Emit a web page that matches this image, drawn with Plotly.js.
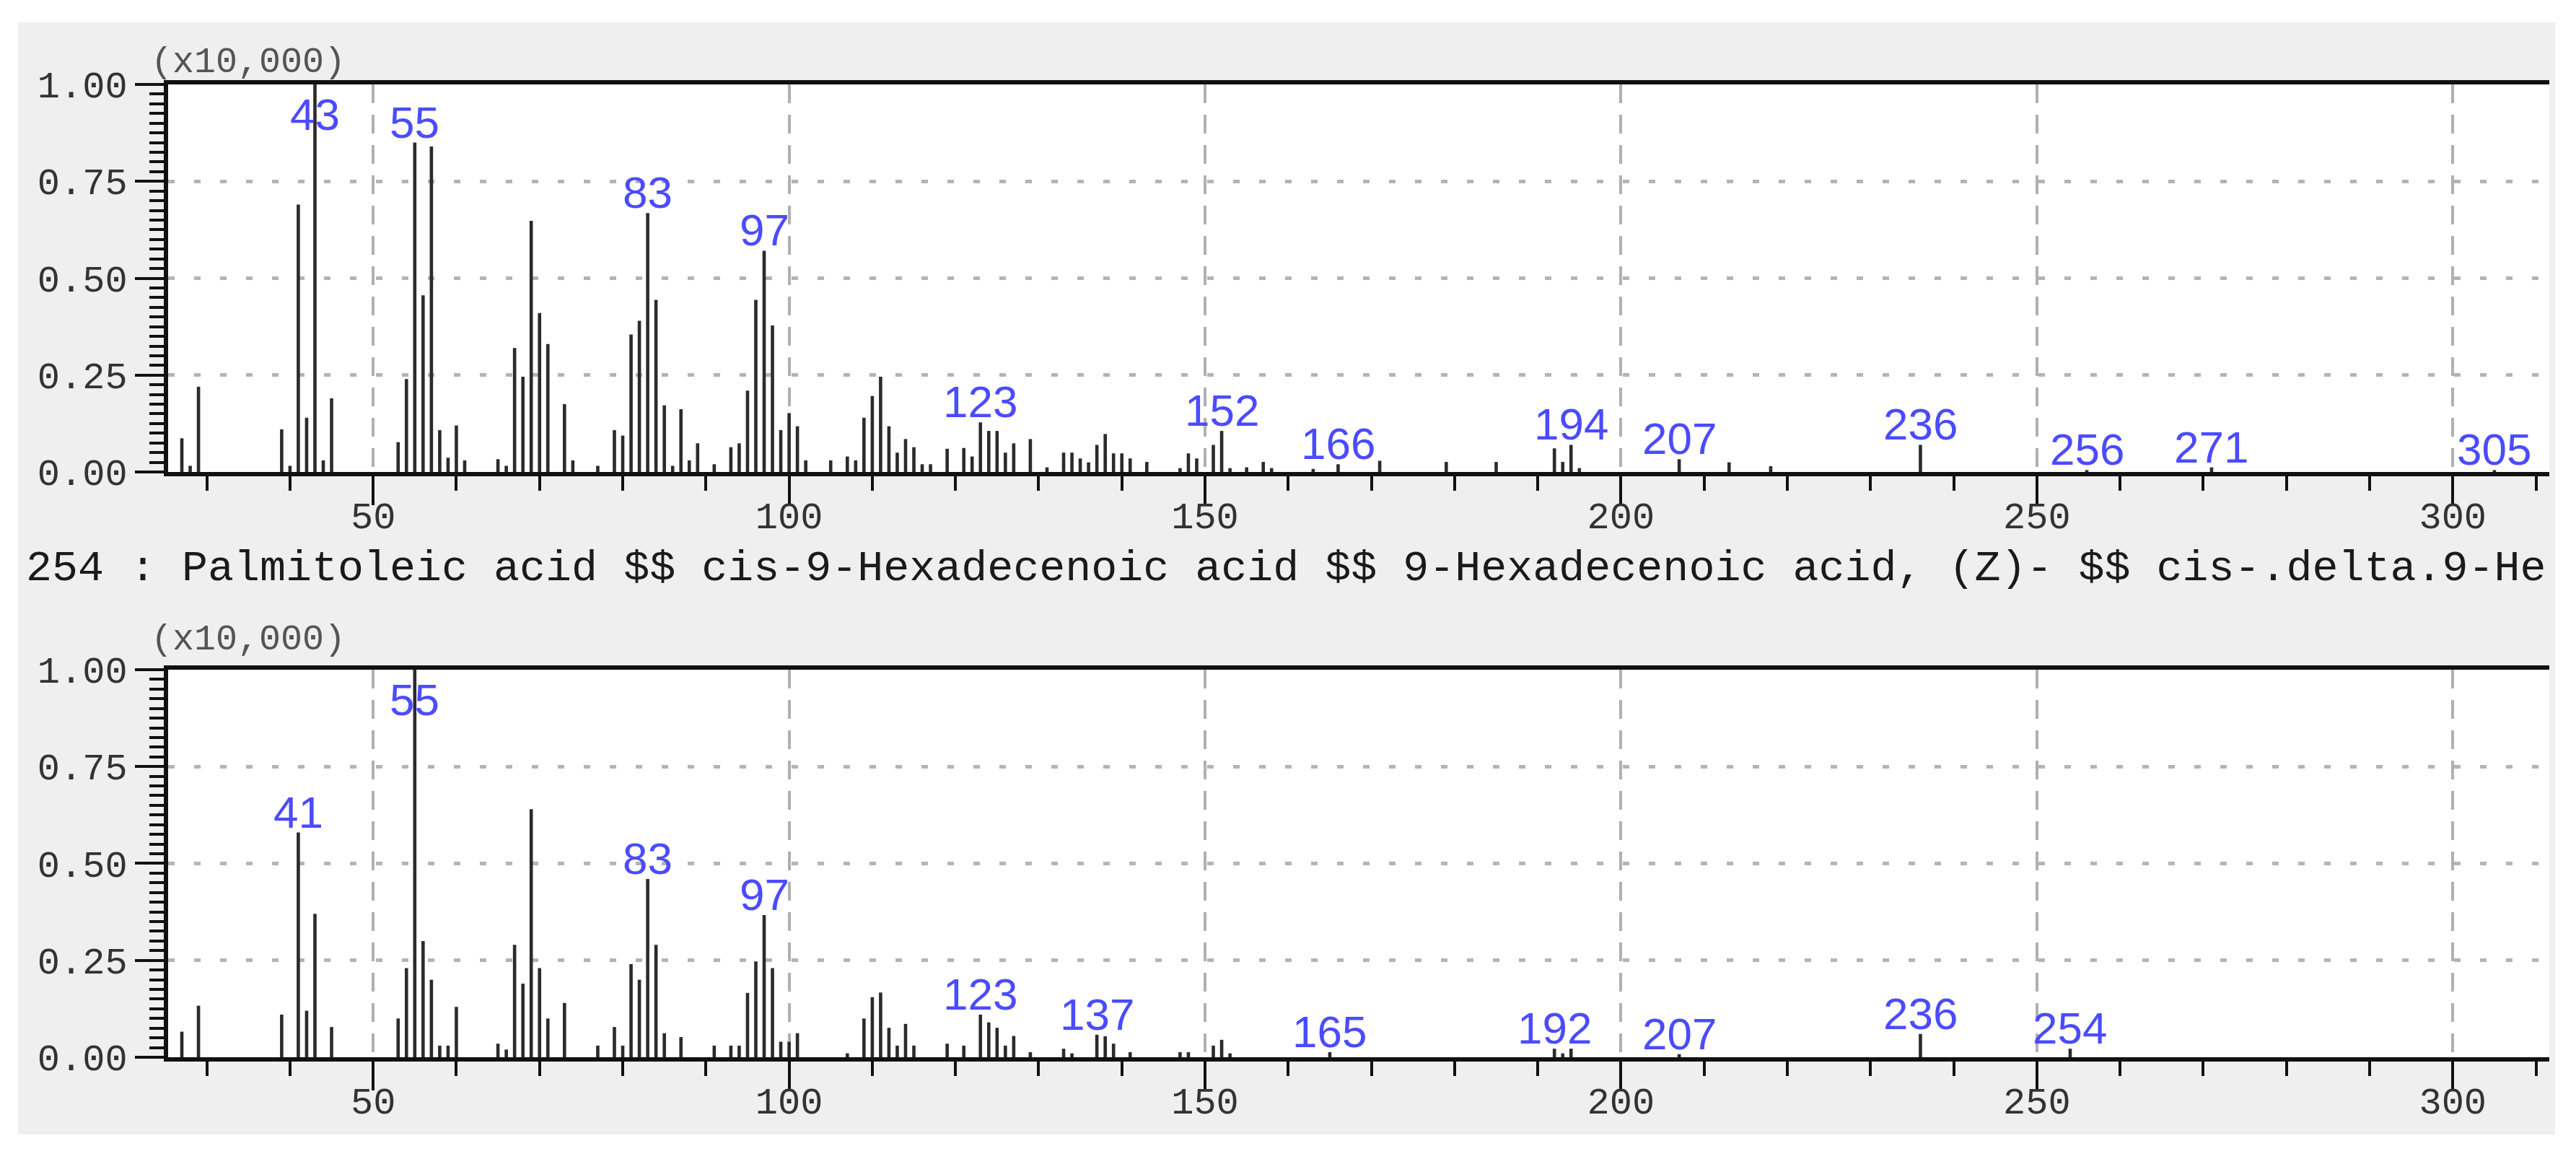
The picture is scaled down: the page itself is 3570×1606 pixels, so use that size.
<!DOCTYPE html>
<html>
<head>
<meta charset="utf-8">
<script src="https://cdn.plot.ly/plotly-3.0.1.min.js"></script>
<style>
  body { margin: 0; background: #ffffff; }
  #ms { position: absolute; left: 25px; top: 31px; width: 3516px; height: 1541px; }
</style>
</head>
<body>
<div id="ms"></div>
<script>
// Sample spectrum (top), values in units of 10,000 counts
var mzSample = [27,28,29,39,40,41,42,43,44,45,53,54,55,56,57,58,59,60,61,65,66,67,68,69,70,71,73,74,77,
  79,80,81,82,83,84,85,86,87,88,89,91,93,94,95,96,97,98,99,100,101,102,105,107,108,109,110,111,112,113,
  114,115,116,117,119,121,122,123,124,125,126,127,129,131,133,134,135,136,137,138,139,140,141,143,147,
  148,149,151,152,153,155,157,158,163,166,171,179,185,192,193,194,195,207,213,218,236,256,271,305];
var intSample = [0.087,0.016,0.22,0.11,0.016,0.69,0.14,1.00,0.03,0.19,0.077,0.24,0.85,0.456,0.84,0.108,0.037,0.12,0.03,
  0.033,0.016,0.32,0.246,0.648,0.41,0.33,0.175,0.03,0.016,
  0.108,0.094,0.355,0.39,0.668,0.444,0.172,0.016,0.162,0.03,0.074,0.02,0.064,0.074,0.21,0.444,0.571,0.378,0.108,0.152,0.118,0.03,
  0.03,0.04,0.03,0.14,0.196,0.246,0.118,0.05,
  0.085,0.064,0.02,0.02,0.06,0.062,0.04,0.128,0.106,0.106,0.05,0.074,0.085,0.012,0.05,0.05,0.035,0.025,0.07,0.098,0.048,0.048,0.035,0.026,0.01,
  0.048,0.035,0.07,0.106,0.01,0.012,0.026,0.01,0.008,0.02,0.029,0.026,0.026,0.061,0.026,0.07,0.01,0.033,0.025,0.015,0.07,0.005,0.012,0.005];
var labelsSample = [43,55,83,97,123,152,166,194,207,236,256,271,305];

// Library spectrum (bottom)
var mzLib = [27,29,39,41,42,43,45,53,54,55,56,57,58,59,60,65,66,67,68,69,70,71,73,77,
  79,80,81,82,83,84,85,87,91,93,94,95,96,97,98,99,100,101,107,109,110,111,112,113,114,115,
  119,121,123,124,125,126,127,129,133,134,137,138,139,141,147,148,151,152,153,165,192,193,194,207,236,254];
var intLib = [0.066,0.133,0.11,0.58,0.12,0.37,0.078,0.10,0.23,1.00,0.30,0.20,0.03,0.03,0.13,0.035,0.02,0.29,0.19,0.64,0.23,0.10,0.14,0.03,
  0.078,0.03,0.24,0.20,0.46,0.29,0.062,0.052,0.03,0.03,0.03,0.166,0.247,0.367,0.23,0.04,0.04,0.062,0.01,0.10,0.155,0.167,0.076,0.03,0.086,0.03,
  0.035,0.03,0.11,0.09,0.076,0.03,0.055,0.013,0.022,0.01,0.058,0.054,0.035,0.013,0.013,0.013,0.03,0.045,0.01,0.013,0.022,0.01,0.022,0.008,0.06,0.022];
var labelsLib = [41,55,83,97,123,137,165,192,207,236,254];

var hitTitle = "254 : Palmitoleic acid $$ cis-9-Hexadecenoic acid $$ 9-Hexadecenoic acid, (Z)- $$ cis-.delta.9-He";
var yTicks = [0, 0.25, 0.5, 0.75, 1];

var mono = "Liberation Mono, monospace";
var tickFont = {family: mono, size: 52, color: "#333"};

function xAxis(anchor) {
  return {
    anchor: anchor, range: [25.35, 311.6], tick0: 0, dtick: 50,
    ticks: "outside", ticklen: 40, tickwidth: 4, tickcolor: "#111",
    ticklabelstandoff: -30,
    showline: true, linecolor: "#111", linewidth: 6, mirror: true,
    showgrid: true, gridcolor: "#b0b0b0", gridwidth: 4, griddash: "26px,16px",
    zeroline: false, tickfont: tickFont,
    minor: {tick0: 0, dtick: 10, ticks: "outside", ticklen: 20, tickwidth: 4, tickcolor: "#111", showgrid: false}
  };
}
function yAxis(anchor, domain) {
  return {
    anchor: anchor, domain: domain, range: [0, 1],
    tickvals: yTicks, tickformat: ".2f",
    ticks: "outside", ticklen: 40, tickwidth: 4, tickcolor: "#111",
    showline: true, linecolor: "#111", linewidth: 6,
    showgrid: true, gridcolor: "#b4b4b4", gridwidth: 5, griddash: "9px,27px",
    zeroline: false, tickfont: tickFont,
    minor: {tick0: 0, dtick: 0.025, ticks: "outside", ticklen: 20, tickwidth: 4, tickcolor: "#111", showgrid: false}
  };
}

var data = [
  {type: "bar", x: mzSample, y: intSample, width: 0.4, xaxis: "x", yaxis: "y",
   marker: {color: "#2b2b2b", line: {width: 0}}},
  {type: "bar", x: mzLib, y: intLib, width: 0.4, xaxis: "x2", yaxis: "y2",
   marker: {color: "#2b2b2b", line: {width: 0}}}
];

// blue m/z labels on top of the peaks
function peakLabels(mz, inten, labels, xr, yr) {
  return labels.map(function (m) {
    var i = mz.indexOf(m);
    var h = i >= 0 ? inten[i] : 0;
    return {x: m, y: Math.min(h, 0.87), xref: xr, yref: yr, text: String(m),
      showarrow: false, xanchor: "center", yanchor: "bottom", yshift: -8,
      font: {family: "Liberation Sans, Arial, sans-serif", size: 62, color: "#4b4bff"}};
  });
}

var annotations = [
  {x: -0.0079, y: 1.0223, xref: "paper", yref: "paper", xanchor: "left", yanchor: "middle",
   text: "(x10,000)", showarrow: false, font: {family: mono, size: 50, color: "#555"}},
  {x: -0.0079, y: 0.4288, xref: "paper", yref: "paper", xanchor: "left", yanchor: "middle",
   text: "(x10,000)", showarrow: false, font: {family: mono, size: 50, color: "#555"}},
  {x: -0.0603, y: 0.5022, xref: "paper", yref: "paper", xanchor: "left", yanchor: "middle",
   text: hitTitle, showarrow: false, font: {family: mono, size: 60, color: "#1a1a1a"}}
].concat(peakLabels(mzSample, intSample, labelsSample, "x", "y"))
 .concat(peakLabels(mzLib, intLib, labelsLib, "x2", "y2"));

var layout = {
  width: 3516, height: 1541,
  margin: {l: 208, r: 8, t: 86, b: 107},
  paper_bgcolor: "#efefef", plot_bgcolor: "#ffffff",
  showlegend: false,
  xaxis: xAxis("y"),
  yaxis: yAxis("x", [0.6016, 1]),
  xaxis2: xAxis("y2"),
  yaxis2: yAxis("x2", [0, 0.3984]),
  annotations: annotations
};

Plotly.newPlot("ms", data, layout, {displayModeBar: false, staticPlot: true});
</script>
</body>
</html>
